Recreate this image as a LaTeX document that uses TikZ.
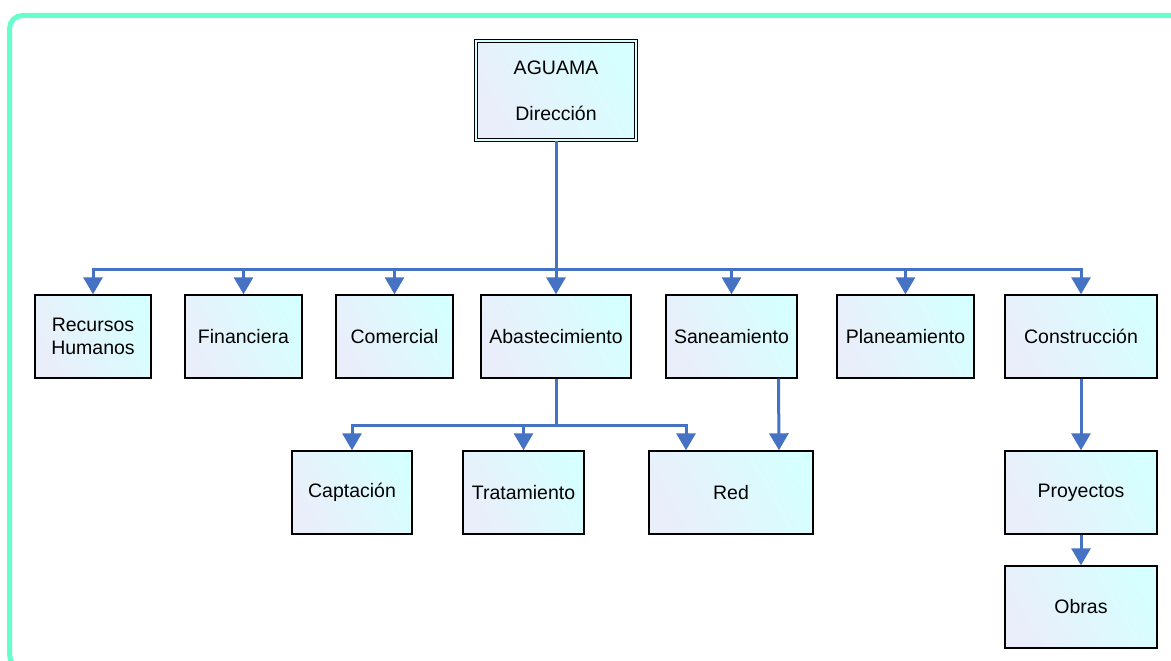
\documentclass[tikz,border=0pt]{standalone}
\usepackage{fontspec}
\setmainfont{Liberation Sans}
\usetikzlibrary{arrows.meta}
\definecolor{frameclr}{RGB}{102,255,204}
\definecolor{linkclr}{RGB}{70,114,196}
\definecolor{boxA}{RGB}{234,238,250}
\definecolor{boxM}{RGB}{222,250,254}
\definecolor{boxB}{RGB}{214,255,255}
\tikzset{
  unit/.style={draw=black, line width=1.4pt, left color=boxA, middle color=boxM,
    right color=boxB, shading angle=120, inner sep=0pt, align=center,
    font=\fontsize{19.5}{23}\selectfont, minimum height=83pt},
  link/.style={draw=linkclr, line width=3pt, line join=miter},
  arr/.style={link, -{Triangle[width=19pt,length=17pt]}}
}
\begin{document}
\begin{tikzpicture}[x=1pt,y=-1pt]
\useasboundingbox (0,0) rectangle (1171,661);
\clip (0,0) rectangle (1171,661);
\fill[white] (0,0) rectangle (1171,661);
% outer frame
\draw[frameclr, line width=5pt, rounded corners=13pt] (9.5,15.5) rectangle (1195,668);

% head office
\node[unit, double=boxB, double distance=2.5pt, line width=1pt,
      minimum width=160pt, minimum height=99pt] (top) at (556,90.5)
      {AGUAMA\\[23pt]Dirección};

% first level
\node[unit, minimum width=116pt] (rh)    at (93,336.5)   {Recursos\\Humanos};
\node[unit, minimum width=117pt] (fin)   at (243.5,336.5) {Financiera};
\node[unit, minimum width=117pt] (com)   at (394.5,336.5) {Comercial};
\node[unit, minimum width=150pt] (abast) at (556,336.5)  {Abastecimiento};
\node[unit, minimum width=131pt] (sane)  at (731.5,336.5) {Saneamiento};
\node[unit, minimum width=137pt] (plan)  at (905.5,336.5) {Planeamiento};
\node[unit, minimum width=152pt] (cons)  at (1081,336.5) {Construcción};

% second level
\node[unit, minimum width=120pt] (capt)  at (352,492.5)  {Captación};
\node[unit, minimum width=121pt] (trat)  at (523.5,492.5) {Tratamiento};
\node[unit, minimum width=164pt] (red)   at (731,492.5)  {Red};
\node[unit, minimum width=152pt] (proy)  at (1081,492.5) {Proyectos};

% third level
\node[unit, minimum width=152pt, minimum height=82pt] (obras) at (1081,607) {Obras};

% bus rails
\coordinate (bus1) at (0,269);
\coordinate (bus2) at (0,425);

% head office to first level
\draw[arr] (top.south) -- (abast.north);
\foreach \n in {rh,fin,com,sane,plan,cons}
  \draw[arr] (top.south |- bus1) -| (\n.north);

% supply branch
\draw[link] (abast.south) -- (abast.south |- bus2);
\draw[arr] (abast.south |- bus2) -| (capt.north);
\draw[arr] (abast.south |- bus2) -| (trat.north);
\draw[arr] (abast.south |- bus2) -| ([xshift=-45pt]red.north);

% sanitation to network
\draw[arr] ([xshift=47pt]sane.south) -- ([xshift=48pt]red.north);

% construction branch
\draw[arr] (cons.south) -- (proy.north);
\draw[arr] (proy.south) -- (obras.north);
\end{tikzpicture}
\end{document}
